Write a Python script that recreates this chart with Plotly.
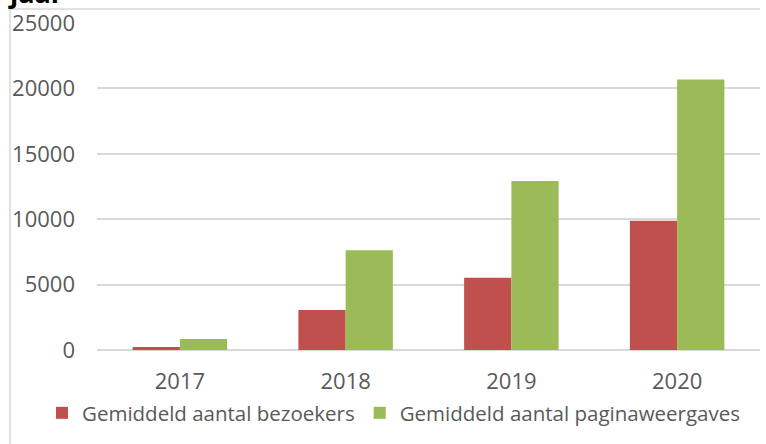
import plotly.graph_objects as go

years = ["2017", "2018", "2019", "2020"]
bezoekers = [230, 3050, 5520, 9880]
paginaweergaves = [850, 7630, 12930, 20680]
y_ticks = [0, 5000, 10000, 15000, 20000, 25000]
y_tick_labels = ["0", "5000", "10000", "15000", "20000", "25000"]

W, H = 766, 444
L, R, T, B = 97, 6, 23, 94
pw = W - L - R
ph = H - T - B

def px_x(x):
    return (x - L) / pw

def px_y(y):
    return (H - B - y) / ph

fig = go.Figure()
fig.add_trace(go.Bar(x=years, y=bezoekers, name="Gemiddeld aantal bezoekers",
                     marker=dict(color="#C0504D", line=dict(width=0))))
fig.add_trace(go.Bar(x=years, y=paginaweergaves, name="Gemiddeld aantal paginaweergaves",
                     marker=dict(color="#9BBB59", line=dict(width=0))))

font_fam = "Open Sans"
fig.update_layout(
    width=W, height=H,
    margin=dict(l=L, r=R, t=T, b=B, autoexpand=False),
    paper_bgcolor="white", plot_bgcolor="white",
    barmode="group", bargap=0.43, bargroupgap=0,
    font=dict(family=font_fam, color="#595959", size=20.7),
    showlegend=True,
    legend=dict(orientation="h", xref="paper", x=px_x(42), xanchor="left",
                yref="paper", y=px_y(413), yanchor="middle",
                font=dict(size=20.5, color="#595959"), itemwidth=30,
                traceorder="normal", tracegroupgap=0, bgcolor="rgba(0,0,0,0)"),
    xaxis=dict(showgrid=False, showline=False, ticks="", tickfont=dict(size=22),
               ticklabelstandoff=16, automargin=False),
    yaxis=dict(range=[0, 25000], tickvals=y_ticks, ticktext=y_tick_labels,
               showgrid=True, gridcolor="#D9D9D9", gridwidth=1.5, zeroline=True,
               zerolinecolor="#D9D9D9", zerolinewidth=1.5, showline=False,
               ticks="", tickfont=dict(size=22), ticklabelstandoff=21,
               automargin=False),
    annotations=[dict(text="<b>jaar</b>", xref="paper", yref="paper",
                      x=px_x(6), y=px_y(13), xanchor="left", yanchor="bottom",
                      showarrow=False, font=dict(size=27, color="black", family=font_fam))],
    shapes=[
        dict(type="line", xref="paper", yref="paper", x0=px_x(10), x1=px_x(10),
             y0=px_y(9), y1=px_y(444), line=dict(color="#D9D9D9", width=1.5)),
        dict(type="line", xref="paper", yref="paper", x0=px_x(10), x1=px_x(760),
             y0=px_y(9), y1=px_y(9), line=dict(color="#D9D9D9", width=1.5)),
    ],
)
fig.write_html("out.html", config={"displayModeBar": False},
               post_script="document.body.style.margin='0';document.body.style.overflow='hidden';")
